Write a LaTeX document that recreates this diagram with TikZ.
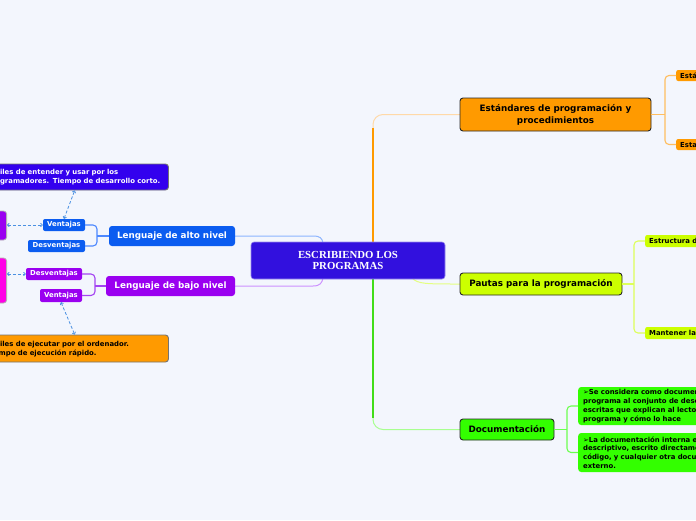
\documentclass[tikz,border=0pt]{standalone}
\usepackage{fontspec}
\setmainfont{DejaVu Sans}
\newfontfamily\serifb{Liberation Serif}
\usetikzlibrary{arrows.meta}
\definecolor{bg}{HTML}{F3F6FD}
\definecolor{cmain}{HTML}{3210DE}
\definecolor{corange}{HTML}{FF9A00}
\definecolor{corangel}{HTML}{FFD9A8}
\definecolor{corangeb}{HTML}{FFBE60}
\definecolor{cyg}{HTML}{CCFF00}
\definecolor{cygl}{HTML}{E4FF80}
\definecolor{cgreen}{HTML}{33FF00}
\definecolor{cgreenl}{HTML}{A8FF90}
\definecolor{cgreenb}{HTML}{6CFF50}
\definecolor{cblue}{HTML}{0B5CF0}
\definecolor{cbluel}{HTML}{8CB4FF}
\definecolor{cblueb}{HTML}{4D88FF}
\definecolor{cpurp}{HTML}{9A00F0}
\definecolor{cpurpl}{HTML}{CC90FF}
\definecolor{cpurpb}{HTML}{A444F2}
\definecolor{cmag}{HTML}{FF00E6}
\definecolor{cviol}{HTML}{3300EE}
\definecolor{cdash}{HTML}{4A90E2}
\tikzset{
  central/.style={fill=cmain, draw=cmain!50!white, line width=0.6pt, rounded corners=3pt,
    minimum width=194pt, minimum height=37pt, inner sep=0pt, align=center,
    text=white, font=\serifb\bfseries\fontsize{10.8}{11.5}\selectfont},
  mainbox/.style={draw=black!85, line width=0.9pt, rounded corners=3pt, inner sep=0pt,
    align=center, text=black, font=\bfseries\fontsize{8.8}{12}\selectfont},
  leftbox/.style={rounded corners=3pt, inner sep=0pt, align=center, text=white,
    font=\bfseries\fontsize{8.8}{10}\selectfont},
  smallbox/.style={rounded corners=2pt, inner sep=0pt, align=center,
    font=\bfseries\fontsize{6.9}{8}\selectfont},
  sidebox/.style={rounded corners=2pt, inner ysep=0pt, inner xsep=4pt, align=left, anchor=west,
    text width=80pt, font=\bfseries\fontsize{6.9}{8}\selectfont},
  textbox/.style={rounded corners=3pt, inner ysep=0pt, inner xsep=5pt, align=left, anchor=west,
    text width=200pt, font=\bfseries\fontsize{6.9}{8.7}\selectfont},
  bigbox/.style={rounded corners=3pt, draw=black!55, line width=0.9pt, inner ysep=0pt, inner xsep=6pt,
    align=left, text width=175.5pt, minimum height=26pt, anchor=west,
    font=\bfseries\fontsize{6.9}{9}\selectfont},
  dasharrow/.style={draw=cdash, dashed, dash pattern=on 3pt off 2pt, line width=0.8pt,
    {To[length=2.5pt,width=4pt]}-{To[length=2.5pt,width=4pt]}},
}
\begin{document}
\begin{tikzpicture}[x=1pt,y=-1pt]
\useasboundingbox (0,0) rectangle (696,520);
\fill[bg] (0,0) rectangle (696,520);
\clip (0,0) rectangle (696,520);

% coordinates for connectors
\coordinate (oTop) at (373,243);
\coordinate (oTurn) at (373,128);
\coordinate (gBot) at (373,278);
\coordinate (gTurn) at (373,418);
\coordinate (yA) at (412,278);
\coordinate (bA) at (323,243);
\coordinate (pA) at (323,278);
\coordinate (ab) at (97,236);
\coordinate (bb) at (95,286);
\coordinate (eb) at (665,114.5);
\coordinate (pb) at (634,284);
\coordinate (db) at (567,429.5);

% main trunks (drawn below nodes)
\draw[corangel, line width=1pt, rounded corners=10pt] (oTop) |- (460,114.5) coordinate (eL);
\draw[corange, line width=1.6pt] (oTop) -- (oTurn);
\draw[cgreenl, line width=1pt, rounded corners=10pt] (gBot) |- (460,429.5) coordinate (dL);
\draw[cgreen!85!black!90, line width=1.6pt] (gBot) -- (gTurn);
\draw[cygl, line width=1pt] (yA) .. controls (418,284) and (425,284) .. (460,284) coordinate (pL);
\draw[cbluel, line width=1pt] (235,236) -- (313,236) .. controls (320,236) and (322,238) .. (bA);
\draw[cpurpl, line width=1pt] (235,286) -- (313,286) .. controls (320,286) and (322,283) .. (pA);

% central
\node[central] (c) at (348,260.5) {ESCRIBIENDO LOS\\PROGRAMAS};

% right side
\node[mainbox, fill=corange, minimum width=191pt, minimum height=33pt] (est) at (555.5,114.5)
  {Estándares de programación y\\procedimientos};
\node[mainbox, fill=cyg, minimum width=162pt, minimum height=22pt] (pau) at (541,284)
  {Pautas para la programación};
\node[mainbox, fill=cgreen, minimum width=94pt, minimum height=21pt] (doc) at (507,429.5)
  {Documentación};

\node[sidebox, fill=corange, minimum height=11pt] (e1) at (676,75.5) {Estándares};
\node[sidebox, fill=corange, minimum height=11pt] (e2) at (676,144.5) {Estandares};
\node[sidebox, fill=cyg, minimum height=12pt] (p1) at (645,241) {Estructura de};
\node[sidebox, fill=cyg, minimum height=12pt] (p2) at (645,333) {Mantener la};

\node[textbox, fill=cgreen, minimum height=38pt] (d1) at (578,406)
  {➢Se considera como documentación del\\programa al conjunto de descripciones\\escritas que explican al lector qué hace el\\programa y cómo lo hace};
\node[textbox, fill=cgreen, minimum height=39pt] (d2) at (578,452.5)
  {➢La documentación interna es el contenido\\descriptivo, escrito directamente en el\\código, y cualquier otra documentación es\\externo.};

\draw[corangeb, line width=1.1pt] (est.east) -- (eb);
\draw[corangeb, line width=1.1pt, rounded corners=4pt] (e1.west) -| (eb) |- (e2.west);
\draw[cygl!70!cyg, line width=1.1pt] (pau.east) -- (pb);
\draw[cygl!70!cyg, line width=1.1pt, rounded corners=4pt] (p1.west) -| (pb) |- (p2.west);
\draw[cgreenb, line width=1.1pt] (doc.east) -- (db);
\draw[cgreenb, line width=1.1pt, rounded corners=4pt] (d1.west) -| (db) |- (d2.west);

% left side
\node[leftbox, fill=cblue, minimum width=126pt, minimum height=20pt] (alto) at (172,236) {Lenguaje de alto nivel};
\node[leftbox, fill=cpurp, minimum width=129pt, minimum height=20pt] (bajo) at (170.5,286) {Lenguaje de bajo nivel};

\node[smallbox, fill=cblue, text=white, minimum width=42pt, minimum height=12pt] (v1) at (64,225) {Ventajas};
\node[smallbox, fill=cblue, text=white, minimum width=57pt, minimum height=12pt] (s1) at (56.5,246) {Desventajas};
\node[smallbox, fill=cpurp, text=white, minimum width=56pt, minimum height=12pt] (s2) at (54,274) {Desventajas};
\node[smallbox, fill=cpurp, text=white, minimum width=42pt, minimum height=13pt] (v2) at (61,295.5) {Ventajas};

\draw[cblueb, line width=1.1pt] (alto.west) -- (ab);
\draw[cblueb, line width=1.1pt, rounded corners=4pt] (v1.east) -| (ab) |- (s1.east);
\draw[cpurpb, line width=1.1pt] (bajo.west) -- (bb);
\draw[cpurpb, line width=1.1pt, rounded corners=4pt] (s2.east) -| (bb) |- (v2.east);

\node[bigbox, fill=cviol, text=white] (hb) at (-19.5,177)
  {Fáciles de entender y usar por los\\programadores. Tiempo de desarrollo corto.};
\node[bigbox, fill=corange, text=black, minimum height=27pt] (ob) at (-19.5,348.5)
  {Fáciles de ejecutar por el ordenador.\\Tiempo de ejecución rápido.};

\node[rounded corners=3pt, fill=cpurp, draw=black!30, line width=0.8pt, anchor=east,
  minimum width=30pt, minimum height=29pt] (m1) at (7,225.5) {};
\node[rounded corners=3pt, fill=cmag, draw=black!30, line width=0.8pt, anchor=east,
  minimum width=30pt, minimum height=45pt] (m2) at (7,280.5) {};

\draw[dasharrow] (m1.east |- v1.west) -- (v1.west);
\draw[dasharrow] (v1.north) -- (hb.south);
\draw[dasharrow] (m2.east |- s2.west) -- (s2.west);
\draw[dasharrow] (v2.south) -- (ob.north);
\end{tikzpicture}
\end{document}
